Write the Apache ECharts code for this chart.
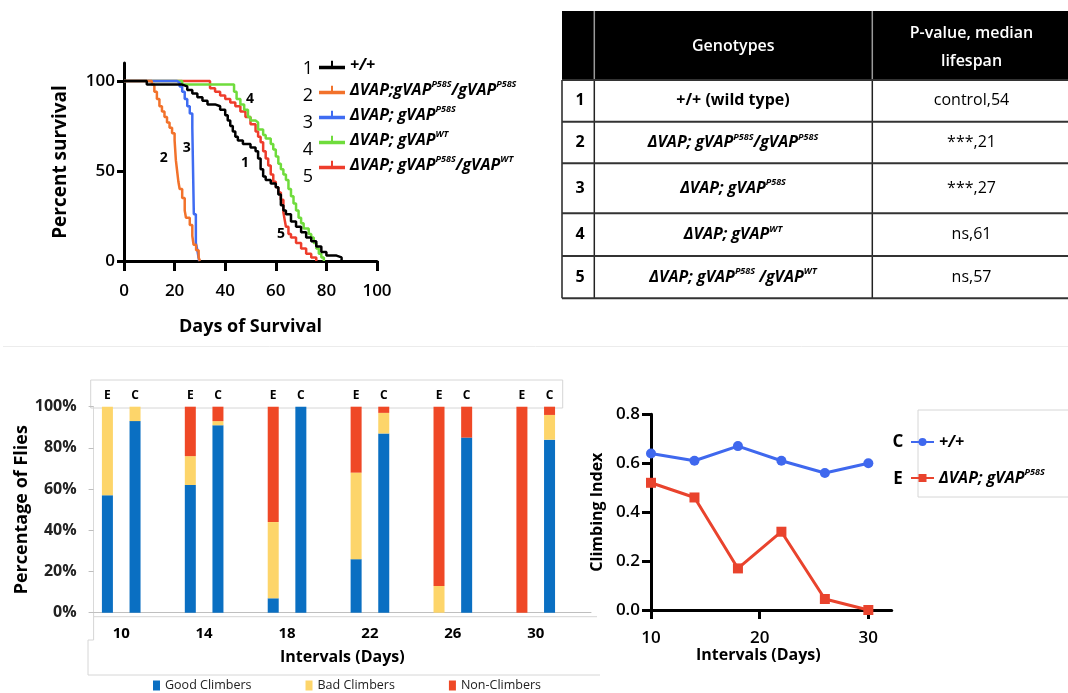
<!DOCTYPE html>
<html>
<head>
<meta charset="utf-8">
<script src="https://cdn.jsdelivr.net/npm/echarts@6/dist/echarts.min.js"></script>
<style>
html, body { margin: 0; padding: 0; background: #fff; }
#main { width: 1068px; height: 693px; }
</style>
</head>
<body>
<div id="main"></div>
<script>
// survival curves, [day, percent surviving]
const survWT = [[0,100],[9,98],[23,97],[25,95],[27,93],[29,91],[31,89],[33,87],[36,86],[38,84],[40,81],[41,78],[42,75],[43,72],[44,69],[45,67],[47,65],[50,63],[52,61],[53,57],[54,51],[55,47],[56,45],[58,43],[60,41],[61,37],[62,31],[63,28],[64,26],[66,22],[68,19],[70,16],[72,13],[74,11],[76,8],[78,5],[80,3],[84,2],[86,0]];
const survHomo = [[0,100],[11,98],[12,94],[13,90],[14,86],[15,83],[16,80],[17,77],[18,74],[19,71],[20,67],[20.5,56],[21,50],[21.5,44],[22,40],[23,35],[24,28],[24.5,24],[26,20],[27,14],[27.5,9],[28.5,6],[29.5,2],[30,0]];
const survP58S = [[0,100],[21,99],[22,97],[23,94],[24,90],[25,86],[26,82],[27,74],[27.6,26],[28.4,10],[29,6],[29.7,0]];
const survGWT = [[0,100],[23,98],[43.5,94],[44.5,90],[46,87],[47.5,84],[49,80],[50,78],[52,77],[53,73],[55,70],[56,68],[58,65],[59,62],[60,58],[61,54],[62,51],[63,48],[64,45],[65,40],[66,36],[67,32],[68,28],[69,24],[70,21],[71,18],[73,15],[74,13],[75,10],[76,7],[77,4],[78,2],[79,0]];
const survHet = [[0,100],[34,96],[36,94],[38,92],[40,90],[42,88],[44,86],[46,83],[48,80],[50,76],[52,72],[53,69],[54,66],[55,61],[56,57],[57,53],[58,48],[59,44],[60,41],[61,38],[62,34],[63,27],[63.5,23],[64,19],[65,15],[66,13],[68,10],[70,7],[72,4],[74,2],[76,0]];
const survNames = ['+/+', 'ΔVAP;gVAP^P58S/gVAP^P58S', 'ΔVAP; gVAP^P58S', 'ΔVAP; gVAP^WT', 'ΔVAP; gVAP^P58S/gVAP^WT'];
const survColors = ['#000000', '#f2722b', '#3f6cf2', '#6fdc3c', '#ee3d2c'];
// curve number tags [day, percent]
const curveTags = [[47.8,54.3],[15.7,57],[24.8,62.6],[49.8,89.8],[62.1,14.8]];

// table
const tableNums = ['1', '2', '3', '4', '5'];
const tableGeno = ['+/+ (wild type)', 'ΔVAP; gVAP^P58S/gVAP^P58S', 'ΔVAP; gVAP^P58S', 'ΔVAP; gVAP^WT', 'ΔVAP; gVAP^P58S /gVAP^WT'];
const tablePval = ['control,54', '***,21', '***,27', 'ns,61', 'ns,57'];

// climbing assay
const intervals = [10, 14, 18, 22, 26, 30];
const goodE = [57, 62, 7, 26, 0, 0];
const badE  = [43, 14, 37, 42, 13, 0];
const nonE  = [0, 24, 56, 32, 87, 100];
const goodC = [93, 91, 100, 87, 85, 84];
const badC  = [7, 2, 0, 10, 0, 12];
const nonC  = [0, 7, 0, 3, 15, 4];
const climbC = [0.64, 0.61, 0.67, 0.61, 0.56, 0.60];
const climbE = [0.52, 0.46, 0.17, 0.32, 0.045, 0.0];
const climbNames = ['C:+/+', 'E:ΔVAP; gVAP^P58S'];

function sup(t, m, s) {
    m = m || 'm'; s = s || 's';
    let out = '';
    t.split(/(\^\w+)/).forEach(p => {
        if (!p) return;
        out += p[0] === '^' ? `{${s}|${p.slice(1)}}` : `{${m}|${p}}`;
    });
    return out;
}

const F = 'Open Sans';
const richBI = {
    m: { fontFamily: F, fontSize: 16, fontWeight: 'bold', fontStyle: 'italic', color: '#000', lineHeight: 20 },
    b: { fontFamily: F, fontSize: 16, fontWeight: 'bold', color: '#000', lineHeight: 20 },
    s: { fontFamily: F, fontSize: 9, fontWeight: 'bold', fontStyle: 'italic', color: '#000', lineHeight: 12, verticalAlign: 'top' }
};

// bar chart categories: E, C, gap per interval
let barCats = [];
let sGood = [], sBad = [], sNon = [];
intervals.forEach((d, i) => {
    barCats.push(d + 'E', d + 'C', d + '-');
    sGood.push(goodE[i], goodC[i], '-');
    sBad.push(badE[i], badC[i], '-');
    sNon.push(nonE[i], nonC[i], '-');
});

let chart = echarts.init(document.getElementById('main'));

let survSeries = [survWT, survHomo, survP58S, survGWT, survHet].map((d, i) => ({
    name: survNames[i],
    type: 'line',
    step: 'end',
    xAxisIndex: 0,
    yAxisIndex: 0,
    showSymbol: false,
    data: d,
    lineStyle: { color: survColors[i], width: 2.5 },
    itemStyle: { color: survColors[i] },
    markPoint: {
        symbol: 'circle',
        symbolSize: 0,
        label: { show: true, position: 'inside', formatter: String(i + 1), color: '#000', fontSize: 14, fontWeight: 'bold', fontFamily: F },
        data: [{ coord: curveTags[i] }]
    }
}));
// draw black last so it sits on top
survSeries = survSeries.slice(1).reverse().concat([survSeries[0]]);

// table graphics
const colX = [562, 594.3, 872.3, 1070];
const rowY = [11, 80, 121.7, 163.3, 213.3, 256, 298.3];
let tbl = [];
tbl.push({ type: 'rect', shape: { x: colX[0], y: rowY[0], width: colX[3] - colX[0], height: rowY[1] - rowY[0] }, style: { fill: '#000' } });
[1, 2].forEach(c => tbl.push({ type: 'line', shape: { x1: colX[c], y1: rowY[0], x2: colX[c], y2: rowY[1] }, style: { stroke: '#9a9a9a', lineWidth: 1.5 } }));
[0, 1, 2].forEach(c => tbl.push({ type: 'line', shape: { x1: colX[c], y1: rowY[1], x2: colX[c], y2: rowY[6] }, style: { stroke: '#222', lineWidth: 1.5 } }));
for (let r = 1; r <= 6; r++) {
    tbl.push({ type: 'line', shape: { x1: colX[0], y1: rowY[r], x2: colX[3], y2: rowY[r] }, style: { stroke: '#333', lineWidth: 2 } });
}
tbl.push({ type: 'text', x: (colX[1] + colX[2]) / 2, y: 46.5, style: { text: 'Genotypes', fill: '#fff', font: '600 16px "Open Sans"', align: 'center', verticalAlign: 'middle' } });
tbl.push({ type: 'text', x: 971.5, y: 47, style: { text: 'P-value, median\nlifespan', fill: '#fff', font: '600 16px "Open Sans"', align: 'center', verticalAlign: 'middle', lineHeight: 28 } });
tableNums.forEach((n, i) => {
    const cy = (rowY[i + 1] + rowY[i + 2]) / 2;
    tbl.push({ type: 'text', x: 580, y: cy, style: { text: n, fill: '#000', font: 'bold 16px "Open Sans"', align: 'center', verticalAlign: 'middle' } });
    tbl.push({ type: 'text', x: 733, y: cy, style: { text: sup(tableGeno[i], i === 0 ? 'b' : 'm'), rich: richBI, align: 'center', verticalAlign: 'middle' } });
    tbl.push({ type: 'text', x: 971.5, y: cy, style: { text: tablePval[i], fill: '#000', font: '16px "Open Sans"', align: 'center', verticalAlign: 'middle' } });
});

// legend numbers for survival + C/E tags for climbing legend
let extras = [];
tableNums.forEach((n, i) => {
    extras.push({ type: 'text', x: 308, y: 69 + i * 27, style: { text: n, fill: '#000', font: '18px "Open Sans"', align: 'center', verticalAlign: 'middle' } });
});
extras.push({ type: 'text', x: 898, y: 442, style: { text: 'C', fill: '#000', font: 'bold 17px "Open Sans"', align: 'center', verticalAlign: 'middle' } });
extras.push({ type: 'text', x: 898, y: 479, style: { text: 'E', fill: '#000', font: 'bold 17px "Open Sans"', align: 'center', verticalAlign: 'middle' } });
// panel frames
extras.push({ type: 'line', shape: { x1: 3, y1: 346.5, x2: 1068, y2: 346.5 }, style: { stroke: '#ececec', lineWidth: 1 } });
extras.push({ type: 'rect', shape: { x: 90.7, y: 380, width: 472, height: 28 }, style: { fill: 'none', stroke: '#d6d6d6', lineWidth: 1 }, z: -1 });
extras.push({ type: 'polyline', shape: { points: [[93.6, 616.7], [597, 616.7]] }, style: { stroke: '#d6d6d6', fill: 'none', lineWidth: 1 } });
extras.push({ type: 'polyline', shape: { points: [[93.6, 612], [93.6, 640], [88, 640], [88, 675], [600, 675]] }, style: { stroke: '#d6d6d6', fill: 'none', lineWidth: 1 } });
extras.push({ type: 'rect', shape: { x: 918, y: 410, width: 160, height: 87 }, style: { fill: 'none', stroke: '#d6d6d6', lineWidth: 1 } });

const axisBlack = { lineStyle: { color: '#000', width: 3 } };

let option = {
    animation: false,
    backgroundColor: '#fff',
    textStyle: { fontFamily: F },
    grid: [
        { left: 124, top: 63, width: 253, height: 198 },
        { left: 93.6, top: 406.7, width: 497.4, height: 206 },
        { left: 651, top: 414.3, width: 240.7, height: 195.7 }
    ],
    legend: [
        {
            data: survNames,
            orient: 'vertical',
            left: 319, top: 57, padding: 0,
            itemWidth: 26, itemHeight: 10, itemGap: 7,
            icon: 'path://M0,6L26,6L26,9.5L0,9.5ZM12,1L14,1L14,6L12,6Z',
            formatter: name => sup(name),
            textStyle: { rich: richBI }
        },
        {
            data: ['Good Climbers', 'Bad Climbers', 'Non-Climbers'],
            orient: 'horizontal',
            left: 153, top: 679, padding: 0,
            itemWidth: 7, itemHeight: 10, itemGap: 54,
            icon: 'rect',
            textStyle: { fontSize: 12.5, color: '#222', fontFamily: F }
        },
        {
            data: climbNames,
            orient: 'vertical',
            left: 910, top: 434, padding: 0,
            itemWidth: 23, itemHeight: 10, itemGap: 18,
            formatter: name => sup(name.slice(2)),
            textStyle: { rich: richBI }
        }
    ],
    xAxis: [
        {
            gridIndex: 0, type: 'value', min: 0, max: 100, interval: 20,
            name: 'Days of Survival', nameLocation: 'middle', nameGap: 57,
            nameTextStyle: { fontSize: 18, fontWeight: 'bold', color: '#000' },
            axisLine: axisBlack,
            axisTick: { length: 10, lineStyle: { color: '#000', width: 3 } },
            axisLabel: { margin: 22, fontSize: 17, fontWeight: 600, color: '#000' },
            splitLine: { show: false }
        },
        {
            gridIndex: 1, type: 'category', data: barCats, position: 'bottom',
            name: 'Intervals (Days)', nameLocation: 'middle', nameGap: 37,
            nameTextStyle: { fontSize: 16, fontWeight: 'bold', color: '#000' },
            axisLine: { lineStyle: { color: '#bfbfbf', width: 1 } },
            axisTick: { interval: 0, length: 5, lineStyle: { color: '#bfbfbf' } },
            axisLabel: {
                interval: 0, margin: 14,
                formatter: (v, i) => i % 3 === 0 ? '{d|' + intervals[i / 3] + '}' : '',
                rich: { d: { fontSize: 15, fontWeight: 'bold', color: '#000', padding: [0, 0, 0, 27.6] } }
            }
        },
        {
            gridIndex: 1, type: 'category', data: barCats, position: 'top',
            axisLine: { show: false }, axisTick: { show: false },
            axisLabel: {
                interval: 0, margin: 5, fontSize: 12, fontWeight: 'bold', color: '#000',
                formatter: v => v.slice(-1) === '-' ? '' : v.slice(-1)
            }
        },
        {
            gridIndex: 2, type: 'value', min: 10, max: 32.15, interval: 10,
            name: 'Intervals (Days)', nameLocation: 'middle', nameGap: 37,
            nameTextStyle: { fontSize: 16, fontWeight: 'bold', color: '#000', padding: [0, 26, 0, 0] },
            axisLine: axisBlack,
            axisTick: { length: 9, customValues: [10, 20, 30], lineStyle: { color: '#000', width: 3 } },
            axisLabel: { margin: 20, fontSize: 17, fontWeight: 600, color: '#000', customValues: [10, 20, 30] },
            splitLine: { show: false }
        }
    ],
    yAxis: [
        {
            gridIndex: 0, type: 'value', min: 0, max: 110,
            name: 'Percent survival', nameLocation: 'middle', nameGap: 54,
            nameTextStyle: { fontSize: 19, fontWeight: 'bold', color: '#000' },
            axisLine: { show: true, lineStyle: { color: '#000', width: 3 } },
            axisTick: { show: true, length: 7, customValues: [0, 50, 100], lineStyle: { color: '#000', width: 3 } },
            axisLabel: { margin: 9, fontSize: 17, fontWeight: 600, color: '#000', customValues: [0, 50, 100] },
            splitLine: { show: false }
        },
        {
            gridIndex: 1, type: 'value', min: 0, max: 100, interval: 20,
            name: 'Percentage of Flies', nameLocation: 'middle', nameGap: 51,
            nameTextStyle: { fontSize: 18, fontWeight: 'bold', color: '#000' },
            axisLine: { show: true, lineStyle: { color: '#d9d9d9', width: 1 } },
            axisTick: { show: true, length: 5, lineStyle: { color: '#bfbfbf' } },
            axisLabel: { margin: 17, fontSize: 16, fontWeight: 'bold', color: '#222', formatter: '{value}%' },
            splitLine: { show: false }
        },
        {
            gridIndex: 2, type: 'value', min: 0, max: 0.8, interval: 0.2,
            name: 'Climbing Index', nameLocation: 'middle', nameGap: 46,
            nameTextStyle: { fontSize: 16, fontWeight: 'bold', color: '#000' },
            axisLine: { show: true, lineStyle: { color: '#000', width: 3 } },
            axisTick: { show: true, length: 9, lineStyle: { color: '#000', width: 3 } },
            axisLabel: { margin: 11, fontSize: 17, fontWeight: 600, color: '#000', formatter: v => v.toFixed(1) },
            splitLine: { show: false }
        }
    ],
    series: survSeries.concat([
        { name: 'Good Climbers', type: 'bar', stack: 'fl', xAxisIndex: 1, yAxisIndex: 1, barWidth: 11, data: sGood, itemStyle: { color: '#0a6fc2' } },
        { name: 'Bad Climbers', type: 'bar', stack: 'fl', xAxisIndex: 1, yAxisIndex: 1, barWidth: 11, data: sBad, itemStyle: { color: '#fdd56a' } },
        { name: 'Non-Climbers', type: 'bar', stack: 'fl', xAxisIndex: 1, yAxisIndex: 1, barWidth: 11, data: sNon, itemStyle: { color: '#ef4826' } },
        {
            name: climbNames[0], type: 'line', xAxisIndex: 3, yAxisIndex: 2,
            data: intervals.map((d, i) => [d, climbC[i]]),
            symbol: 'circle', symbolSize: 10,
            lineStyle: { color: '#3f68ee', width: 3 }, itemStyle: { color: '#3f68ee' }
        },
        {
            name: climbNames[1], type: 'line', xAxisIndex: 3, yAxisIndex: 2,
            data: intervals.map((d, i) => [d, climbE[i]]),
            symbol: 'rect', symbolSize: 10,
            lineStyle: { color: '#e9432d', width: 3 }, itemStyle: { color: '#e9432d' }
        }
    ]),
    graphic: tbl.concat(extras)
};
chart.setOption(option);
</script>
</body>
</html>
